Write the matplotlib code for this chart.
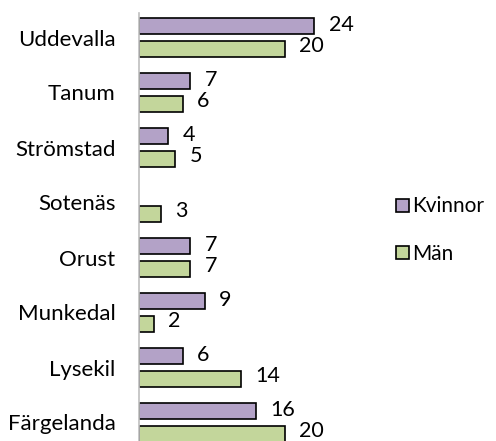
import numpy as np
import matplotlib.pyplot as plt

plt.rcParams['font.family'] = ['Lato', 'DejaVu Sans']

kommuner = ['Uddevalla', 'Tanum', 'Strömstad', 'Sotenäs', 'Orust', 'Munkedal', 'Lysekil', 'Färgelanda']
kvinnor = [24, 7, 4, None, 7, 9, 6, 16]
man = [20, 6, 5, 3, 7, 2, 14, 20]

fig = plt.figure(figsize=(4.96, 4.41), dpi=100)
ax = fig.add_axes([139/496, -9/441, 218.7/496, 440/441])

y = np.arange(len(kommuner))
h = 0.29
off = 0.21
kv = np.array([np.nan if v is None else v for v in kvinnor], dtype=float)
b1 = ax.barh(y - off, kv, height=h, color='#B3A2C7', edgecolor='black', linewidth=1.2, label='Kvinnor')
b2 = ax.barh(y + off, man, height=h, color='#C3D69B', edgecolor='black', linewidth=1.2, label='Män')

# data labels
for i, v in enumerate(kvinnor):
    if v is not None:
        ax.annotate(str(v), (v, y[i] - off), xytext=(10.5, 1), textcoords='offset points',
                    va='center', ha='left', fontsize=15.5)
for i, v in enumerate(man):
    ax.annotate(str(v), (v, y[i] + off), xytext=(10.5, 2), textcoords='offset points',
                va='center', ha='left', fontsize=15.5)

ax.set_xlim(0, 30)
ax.set_ylim(len(kommuner) - 0.5, -0.5)
ax.set_yticks(y)
ax.set_yticklabels(kommuner, fontsize=16)
ax.tick_params(axis='y', length=0, pad=17)
ax.set_xticks([])
for s in ['top', 'right', 'bottom']:
    ax.spines[s].set_visible(False)
ax.spines['left'].set_color('#BFBFBF')
ax.spines['left'].set_linewidth(1.2)
ax.spines['left'].set_bounds(-0.45, len(kommuner) - 0.5)

fig.legend(handles=[b1, b2], loc='center left', bbox_to_anchor=(396/496, 1 - 230/441),
           frameon=False, fontsize=15, handlelength=0.6, handleheight=0.6,
           handletextpad=0.15, labelspacing=1.3, borderaxespad=0, borderpad=0)

fig.savefig('out.png', dpi=100)
